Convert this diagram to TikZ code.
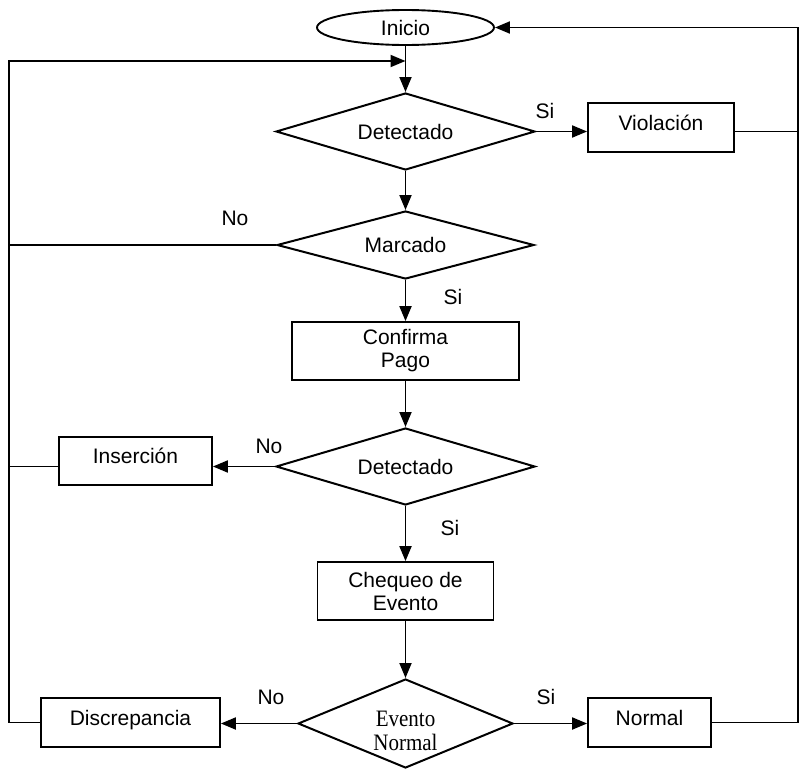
\documentclass[tikz,border=0pt]{standalone}
\usepackage{fontspec}
\setmainfont{Liberation Sans}
\newfontfamily\timesfont{Liberation Serif}
\usetikzlibrary{shapes.geometric,arrows.meta}
\begin{document}
\begin{tikzpicture}[x=1pt,y=-1pt,
  every node/.style={font=\fontsize{21}{23}\selectfont, inner sep=0pt},
  conn/.style={line width=1.9pt},
  arr/.style={line width=1.9pt, -{Triangle[length=15pt,width=12pt]}},
  box/.style={draw, line width=1.8pt, rectangle},
  boxtext/.style={text height=10pt, text depth=5pt},
  dia/.style={draw, line width=2pt, diamond},
]
\useasboundingbox[fill=white] (0,0) rectangle (801,771);

\node[draw, ellipse, line width=1.9pt, minimum width=177pt, minimum height=35pt] (inicio) at (405.5,27.5) {Inicio};
\node[dia, aspect=3.4, minimum width=259pt, minimum height=77pt] (d1) at (405.5,131.5) {Detectado};
\node[box, boxtext, minimum width=146pt, minimum height=49pt] (viol) at (661,127.5) {Violación};
\node[dia, aspect=3.8, minimum width=257pt, minimum height=68pt] (marc) at (405.5,245) {Marcado};
\node[box, align=center, minimum width=227pt, minimum height=58pt] (conf) at (405.5,351) {Confirma\\Pago};
\node[dia, aspect=3.4, minimum width=259pt, minimum height=77pt] (d2) at (405.5,466.5) {Detectado};
\node[box, boxtext, minimum width=153pt, minimum height=48pt] (ins) at (135.5,461) {Inserción};
\node[box, align=center, minimum width=176pt, minimum height=58pt] (cheq) at (405.5,591) {Chequeo de\\Evento};
\node[dia, aspect=2.4, minimum width=215pt, minimum height=89pt] (d3) at (405.5,723.5) {};
\node[font=\timesfont\fontsize{21}{24}\selectfont, align=center] (d3t) at (405.5,731) {\scalebox{1}[1.12]{Evento}\\\scalebox{1}[1.12]{Normal}};
\node[box, boxtext, minimum width=179pt, minimum height=49pt] (disc) at (130.5,722.5) {Discrepancia};
\node[box, boxtext, minimum width=123pt, minimum height=49pt] (norm) at (649.5,722.5) {Normal};

\node (s1) at (545,111) {Si};
\node (n1) at (235,218) {No};
\node (s2) at (453,297) {Si};
\node (n2) at (269,446) {No};
\node (s3) at (450,528) {Si};
\node (n3) at (271,697) {No};
\node (s4) at (546,697) {Si};

\coordinate (L1) at (9,722.5);
\coordinate (L2) at (9,61);
\coordinate (E1) at (405.5,61);
\coordinate (R1) at (798,722.5);
\coordinate (R2) at (798,27.5);

\draw[arr] (inicio.south) -- (d1.north);
\draw[arr] (d1.east) -- (viol.west |- d1.east);
\draw[conn] (viol.east |- d1.east) -- (R1 |- d1.east);
\draw[arr] (norm.east) -- (R1) -- (R2) -- (inicio.east);
\draw[arr] (d1.south) -- (marc.north);
\draw[conn] (marc.west) -- (marc.west -| L1);
\draw[arr] (disc.west) -- (L1) -- (L2) -- (E1);
\draw[arr] (marc.south) -- (conf.north);
\draw[arr] (conf.south) -- (d2.north);
\draw[arr] (d2.west) -- (ins.east |- d2.west);
\draw[conn] (ins.west |- d2.west) -- (L1 |- d2.west);
\draw[arr] (d2.south) -- (cheq.north);
\draw[arr] (cheq.south) -- (d3.north);
\draw[arr] (d3.west) -- (disc.east |- d3.west);
\draw[arr] (d3.east) -- (norm.west |- d3.east);
\end{tikzpicture}
\end{document}
